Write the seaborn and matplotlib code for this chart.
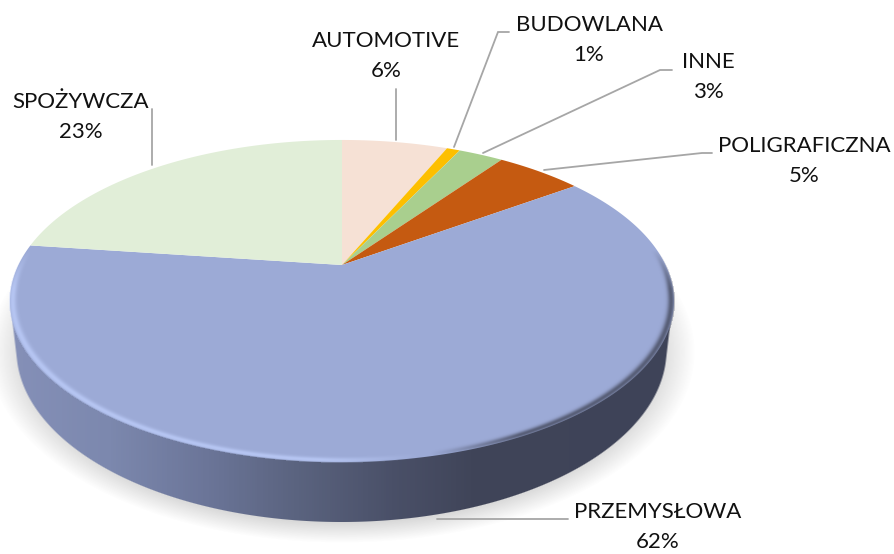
import numpy as np
import matplotlib
matplotlib.use("Agg")
import matplotlib.pyplot as plt
import seaborn as sns
from matplotlib.colors import LinearSegmentedColormap
from matplotlib.path import Path
from matplotlib.transforms import Affine2D, Transform

categories = ["AUTOMOTIVE", "BUDOWLANA", "INNE", "POLIGRAFICZNA", "PRZEMYSŁOWA", "SPOŻYWCZA"]
shares = [6.4, 0.8, 2.7, 5.2, 62.0, 22.9]
slice_colors = ["#f6e1d5", "#fdbf00", "#a9cf8e", "#c55a11", "#9caad6", "#e1eed8"]

label_pos = {
    "AUTOMOTIVE": (386, 56), "BUDOWLANA": (589, 40), "INNE": (708, 77),
    "POLIGRAFICZNA": (804, 161), "PRZEMYSŁOWA": (658, 527), "SPOŻYWCZA": (81, 117),
}
leaders = {
    "AUTOMOTIVE": [(396, 89), (396, 140)],
    "BUDOWLANA": [(454, 147), (498, 32), (509, 32)],
    "INNE": [(483, 153), (660, 70), (672, 70)],
    "POLIGRAFICZNA": [(544, 170), (702, 153), (712, 153)],
    "PRZEMYSŁOWA": [(437, 519), (568, 519)],
    "SPOŻYWCZA": [(152, 165), (152, 109)],
}

W, H = 894, 554
CX, CY = 342, 265
K, A, R = 0.2236, 153, 323.6


class Perspective(Transform):
    """Tilts the flat unit-circle pie so it looks like the 3D one."""
    input_dims = 2
    output_dims = 2
    has_inverse = False

    def transform_non_affine(self, values):
        values = np.asarray(values, dtype=float)
        w = 1 + K * values[:, 1]
        return np.column_stack([CX + R * values[:, 0] / w, CY - A * values[:, 1] / w])

    def transform_path_non_affine(self, path):
        # flatten the curves at a large scale so the outline stays smooth
        big = path.transformed(Affine2D().scale(2000))
        verts = np.vstack(big.to_polygons(closed_only=True)) / 2000
        return Path(self.transform_non_affine(verts))


def ellipse_alpha(xx, yy, cx, cy, rx, ry, soft=1.0):
    e = np.sqrt(((xx - cx) / rx) ** 2 + ((yy - cy) / ry) ** 2)
    return np.clip((1 - e) * ry / soft + 0.5, 0, 1)


sns.set_theme(style="white")
plt.rcParams["font.family"] = ["Lato", "DejaVu Sans"]

fig = plt.figure(figsize=(W / 100, H / 100), dpi=100)
ax = fig.add_axes([0, 0, 1, 1])

wedges, _ = ax.pie(shares, colors=slice_colors, startangle=90, counterclock=False,
                   radius=1, center=(0, 0), wedgeprops={"linewidth": 0})
ax.set_aspect("auto")
ax.set_xlim(0, W)
ax.set_ylim(H, 0)
ax.axis("off")

persp = Perspective()
for w in wedges:
    w.set_transform(persp + ax.transData)
    w.set_zorder(4)

xx, yy = np.meshgrid(np.arange(W) + 0.5, np.arange(H) + 0.5)
extent = (0, W, H, 0)

# soft shadow under the disc
shadow = ellipse_alpha(xx, yy, 342, 352, 333, 180, soft=22) * 0.30
shadow[yy < 290] = 0
rgba = np.zeros((H, W, 4))
rgba[..., :3] = 0.45
rgba[..., 3] = shadow
ax.imshow(rgba, extent=extent, zorder=1, aspect="auto", interpolation="bilinear")

# side wall, swept from the top ellipse down to the bottom one
mask = np.zeros((H, W))
for t in np.linspace(0, 1, 40):
    mask = np.maximum(mask, ellipse_alpha(xx, yy, 341.5, 300 + 50 * t, 331 - 6 * t, 161 + 11 * t))
mask[yy < 298] = 0
side_cmap = LinearSegmentedColormap.from_list(
    "side", [(0.0, "#8590b8"), (0.15, "#7c88ae"), (0.3, "#6b7598"), (0.43, "#5b6480"),
             (0.58, "#4a5068"), (0.7, "#404559"), (1.0, "#3e4358")])
rgba = side_cmap(np.clip((xx - 10) / 660, 0, 1))
rgba[..., 3] = mask
ax.imshow(rgba, extent=extent, zorder=2, aspect="auto", interpolation="bilinear")

# bevel on the rim of the top face: light on the left, dark on the right
yn = (CY - yy) / A
ww = 1 / (1 - K * yn)
uu = (xx - CX) / R * ww
vv = yn * ww
rr = np.sqrt(uu ** 2 + vv ** 2)
band = np.exp(-((rr - 0.992) / 0.01) ** 2) * (rr <= 1.003)
band = band * np.clip((0.1 - vv) / 0.25, 0, 1)
light = np.clip((420 - xx) / 100, 0, 1)
dark = np.clip((xx - 430) / 90, 0, 1)
rgba = np.zeros((H, W, 4))
rgba[..., :3] = np.where((xx < 425)[..., None], np.array([0.74, 0.80, 0.98]), np.array([0.28, 0.30, 0.38]))
rgba[..., 3] = band * (0.8 * light + 0.8 * dark)
ax.imshow(rgba, extent=extent, zorder=5, aspect="auto", interpolation="bilinear")

for name, share in zip(categories, shares):
    xs, ys = zip(*leaders[name])
    ax.plot(xs, ys, color="#a6a6a6", lw=1.3, zorder=6, solid_joinstyle="miter")
    lx, ly = label_pos[name]
    ax.text(lx, ly, f"{name}\n{share:.0f}%", ha="center", va="center", fontsize=16,
            color="#111111", linespacing=1.6, zorder=7)

ax.set_xlim(0, W)
ax.set_ylim(H, 0)
fig.savefig("out.png", dpi=100)
plt.close()
